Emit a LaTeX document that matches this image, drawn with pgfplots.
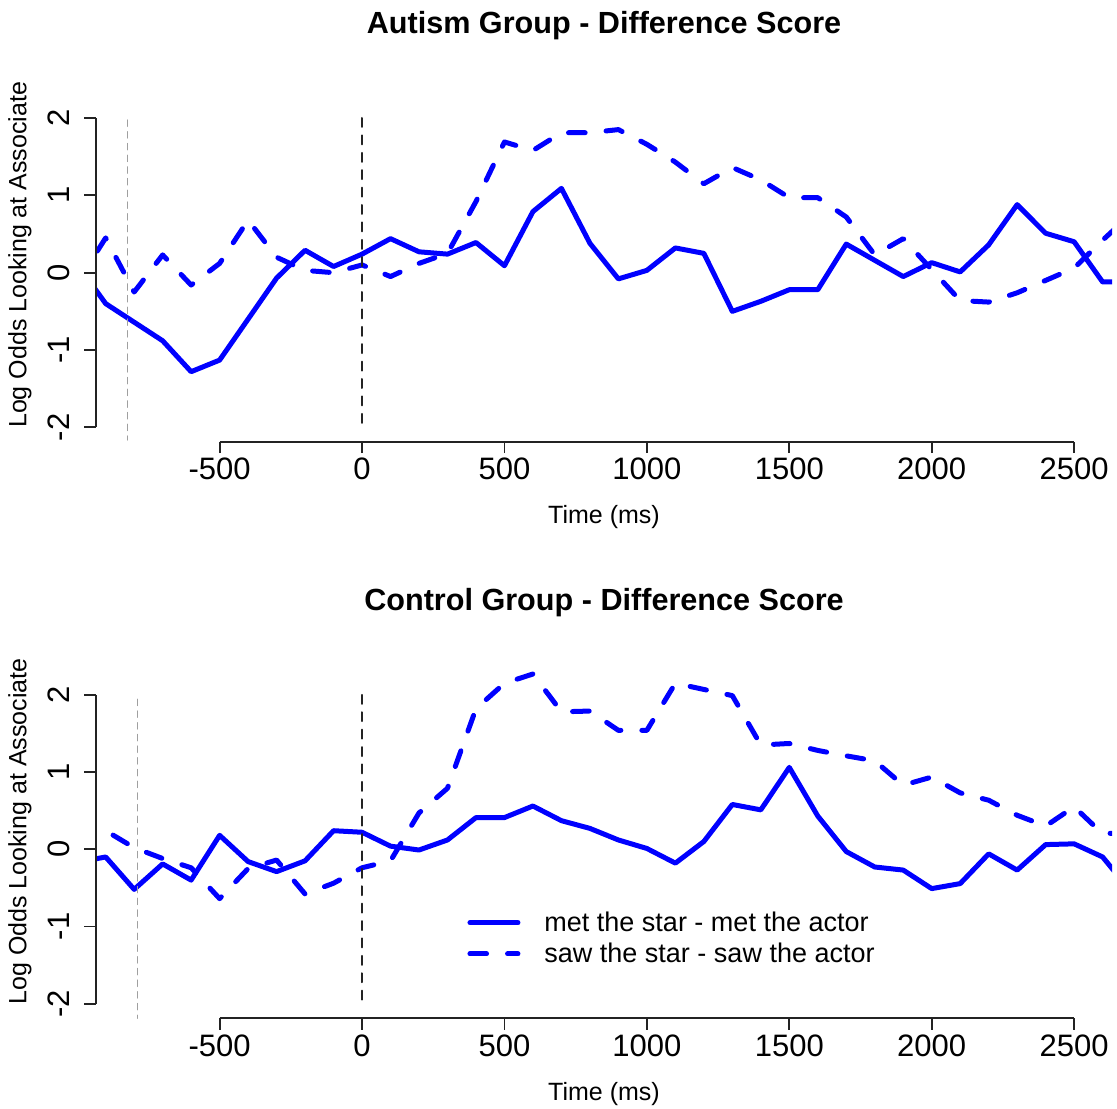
\documentclass[border=0pt]{standalone}
\usepackage{fontspec}
\setmainfont{Liberation Sans}
\usepackage{pgfplots}
\usepackage{pgfplotstable}
\pgfplotsset{compat=1.18}
\definecolor{rblue}{RGB}{0,0,255}
\definecolor{axgray}{RGB}{35,35,35}

\pgfplotstableread{
t solid dashed
-1000 0.11 -0.13
-900 -0.40 0.45
-800 -0.64 -0.25
-700 -0.88 0.23
-600 -1.28 -0.16
-500 -1.13 0.12
-400 -0.60 0.68
-300 -0.07 0.20
-200 0.29 0.03
-100 0.08 0.00
0 0.24 0.10
100 0.44 -0.05
200 0.27 0.12
300 0.24 0.25
400 0.39 0.92
500 0.09 1.69
600 0.79 1.58
700 1.09 1.81
800 0.38 1.81
900 -0.08 1.85
1000 0.03 1.66
1100 0.32 1.43
1200 0.25 1.15
1300 -0.50 1.36
1400 -0.37 1.20
1500 -0.22 0.97
1600 -0.22 0.97
1700 0.37 0.72
1800 0.16 0.23
1900 -0.05 0.44
2000 0.13 0.04
2100 0.01 -0.36
2200 0.36 -0.38
2300 0.88 -0.26
2400 0.51 -0.10
2500 0.40 0.06
2600 -0.12 0.42
2700 -0.12 0.76
}\autism

\pgfplotstableread{
t solid dashed
-1000 -0.17 0.17
-900 -0.10 0.24
-800 -0.52 0.02
-700 -0.19 -0.12
-600 -0.40 -0.24
-500 0.18 -0.64
-400 -0.16 -0.25
-300 -0.29 -0.14
-200 -0.15 -0.58
-100 0.24 -0.44
0 0.22 -0.24
100 0.04 -0.15
200 -0.01 0.47
300 0.12 0.79
400 0.41 1.82
500 0.41 2.15
600 0.56 2.27
700 0.37 1.78
800 0.27 1.79
900 0.12 1.54
1000 0.01 1.54
1100 -0.18 2.15
1200 0.10 2.07
1300 0.58 1.99
1400 0.51 1.35
1500 1.06 1.37
1600 0.43 1.28
1700 -0.03 1.21
1800 -0.23 1.145
1900 -0.27 0.83
2000 -0.51 0.935
2100 -0.445 0.73
2200 -0.06 0.635
2300 -0.27 0.44
2400 0.06 0.30
2500 0.07 0.55
2600 -0.10 0.20
2700 -0.55 0.22
}\control

\pgfplotsset{
  rstyle/.style={
    scale only axis,
    width=508pt,
    xmin=-934, xmax=2633,
    clip mode=individual,
    axis x line*=bottom, axis y line*=left,
    axis line style={draw=none,-},
    tick align=outside,
    major tick length=5.75pt,
    tick style={axgray, line width=0.9pt},
    xtick={-500,0,500,1000,1500,2000,2500},
    xticklabels={-500,0,500,1000,1500,2000,2500},
    ytick={-2,-1,0,1,2},
    yticklabels={-2,-1,0,1,2},
    tick label style={font=\fontsize{15.5}{18}\selectfont},
    xticklabel style={anchor=north, inner sep=0pt, yshift=-2.1pt},
    yticklabel style={xshift=-7.25pt, rotate=90, anchor=base, inner sep=0pt},
    every axis y label/.style={at={(axis description cs:-0.0684,0.527)}, rotate=90, anchor=base, font=\fontsize{12.5}{15}\selectfont},
    every axis x label/.style={at={(axis description cs:0.5,0)}, anchor=base, yshift=-41pt, font=\fontsize{12.5}{15}\selectfont},
    title style={at={(axis description cs:0.5,1)}, anchor=base, yshift=20.85pt, inner sep=0pt, font=\bfseries\fontsize{15.3}{18}\selectfont},
    xlabel={Time (ms)},
    ylabel={Log Odds Looking at Associate},
  },
  solidline/.style={rblue, line width=2.5pt, line cap=round, line join=round},
  dashline/.style={rblue, line width=2.5pt, line cap=round, line join=round, dash pattern=on 8.3pt off 10.5pt},
  zeroline/.style={axgray, line width=1pt, line cap=round, dash pattern=on 4.5pt off 4.2pt},
  grayline/.style={gray!75, line width=0.6pt, line cap=round, dash pattern=on 3.2pt off 2.65pt},
}

\begin{document}
\begin{tikzpicture}
\path[use as bounding box] (0,0) rectangle (558.5pt,554pt);

\begin{axis}[rstyle, at={(48pt,333.15pt)}, anchor=south west,
  height=177.32pt, ymin=-2.185, ymax=2.4,
  title={Autism Group - Difference Score}]
\addplot[solidline] table[x=t, y=solid] {\autism};
\addplot[dashline] table[x=t, y=dashed] {\autism};
\addplot[grayline, forget plot] coordinates {(-824,1.974) (-824,-2.163)};
\addplot[zeroline, forget plot] coordinates {(0,2) (0,-2)};
\draw[axgray, line width=0.9pt] (axis cs:-500,-2.185) -- (axis cs:2500,-2.185);
\draw[axgray, line width=0.9pt] (axis cs:-934,-2) -- (axis cs:-934,2);
\end{axis}

\begin{axis}[rstyle, at={(48pt,44.85pt)}, anchor=south west,
  height=177.17pt, ymin=-2.19, ymax=2.4,
  title={Control Group - Difference Score},
  legend cell align=left,
  legend style={draw=none, fill=none, inner sep=0pt, outer sep=0pt,
    at={(axis description cs:0.3656,0.3127)}, anchor=north west,
    font=\fontsize{13.5}{16}\selectfont, row sep=0.3pt,
    /tikz/every odd column/.append style={column sep=10pt}},
  legend image code/.code={\draw[#1] (0pt,0pt) -- (24pt,0pt);}]
\addplot[solidline] table[x=t, y=solid] {\control};
\addlegendentry{met the star - met the actor}
\addplot[dashline] table[x=t, y=dashed] {\control};
\addlegendentry{saw the star - saw the actor}
\addplot[grayline, forget plot] coordinates {(-788,1.943) (-788,-2.19)};
\addplot[zeroline, forget plot] coordinates {(0,2) (0,-2)};
\draw[axgray, line width=0.9pt] (axis cs:-500,-2.19) -- (axis cs:2500,-2.19);
\draw[axgray, line width=0.9pt] (axis cs:-934,-2) -- (axis cs:-934,2);
\end{axis}
\end{tikzpicture}
\end{document}
